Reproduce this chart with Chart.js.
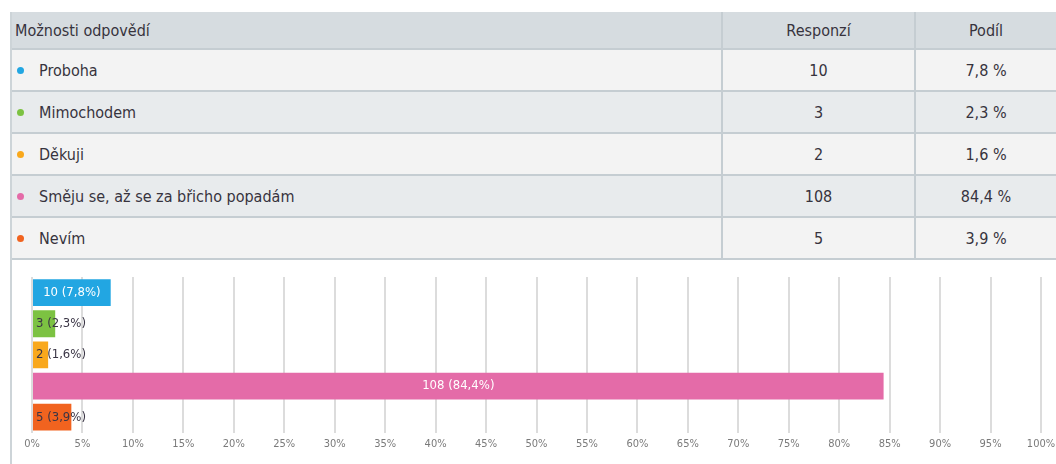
<!DOCTYPE html>
<html>
<head>
<meta charset="utf-8">
<script src="https://cdn.jsdelivr.net/npm/chart.js@4.4.1/dist/chart.umd.min.js"></script>
<style>
	body { margin: 0; background: #fff; font-family: "DejaVu Sans Condensed", "Liberation Sans Narrow", sans-serif; color: #37333d; }
	#wrap { position: absolute; left: 10px; top: 12px; width: 1046px; border-left: 2px solid #cdd4d8; }
	table { border-collapse: collapse; width: 1044px; table-layout: fixed; font-size: 16px; }
	th { background: #d6dce0; font-weight: normal; height: 36px; padding: 0; border-bottom: 2px solid #c5cdd2; }
	td { height: 40px; padding: 0; border-bottom: 2px solid #c5cdd2; }
	th + th, td + td { border-left: 2px solid #c5cdd2; text-align: center; }
	th:first-child { text-align: left; padding-left: 3px; }
	td:first-child { padding-left: 27px; position: relative; }
	tr:nth-child(odd) td { background: #f3f3f3; }
	tr:nth-child(even) td { background: #e8ebed; }
	.dot { position: absolute; left: 5px; top: 17px; width: 7px; height: 7px; border-radius: 50%; }
	#box { position: relative; width: 1044px; height: 204px; }
</style>
</head>
<body>
<div id="wrap">
	<table id="tbl">
		<colgroup><col style="width:710px"><col style="width:193px"><col style="width:141px"></colgroup>
		<thead><tr><th>Možnosti odpovědí</th><th>Responzí</th><th>Podíl</th></tr></thead>
		<tbody></tbody>
	</table>
	<div id="box"><canvas id="answers"></canvas></div>
</div>
<script>
// Data
var answers = ['Proboha', 'Mimochodem', 'Děkuji', 'Směju se, až se za břicho popadám', 'Nevím'];
var counts = [10, 3, 2, 108, 5];
var shares = [7.8, 2.3, 1.6, 84.4, 3.9];
var ticks = [0, 5, 10, 15, 20, 25, 30, 35, 40, 45, 50, 55, 60, 65, 70, 75, 80, 85, 90, 95, 100];

var colors = ['#22a6e2', '#7cc242', '#f9a81c', '#e46ba8', '#f1631f'];
var fontFamily = '"DejaVu Sans Condensed", "Liberation Sans Narrow", sans-serif';

var fmt = function (v) {
	return v.toFixed(1).replace('.', ',');
};

// Table rows
var tbody = document.querySelector('#tbl tbody');
answers.forEach(function (name, i) {
	var tr = document.createElement('tr');
	tr.innerHTML = '<td><span class="dot" style="background:' + colors[i] + '"></span>' + name + '</td>' +
		'<td>' + counts[i] + '</td><td>' + fmt(shares[i]) + ' %</td>';
	tbody.appendChild(tr);
});

// Bar value labels
var barLabels = {
	id: 'barLabels',
	afterDatasetsDraw: function (chart) {
		var ctx = chart.ctx;
		var meta = chart.getDatasetMeta(0);
		ctx.save();
		ctx.font = '13px ' + fontFamily;
		ctx.textBaseline = 'middle';
		meta.data.forEach(function (bar, i) {
			var text = counts[i] + ' (' + fmt(shares[i]) + '%)';
			var w = ctx.measureText(text).width;
			var barW = bar.x - bar.base;
			if (w + 10 < barW) {
				ctx.fillStyle = '#fff';
				ctx.textAlign = 'center';
				ctx.fillText(text, (bar.x + bar.base) / 2, bar.y);
			} else {
				ctx.fillStyle = '#3a3545';
				ctx.textAlign = 'left';
				ctx.fillText(text, bar.base + 3, bar.y);
			}
		});
		ctx.restore();
	}
};

new Chart(document.getElementById('answers'), {
	type: 'bar',
	data: {
		labels: answers,
		datasets: [{
			data: shares,
			backgroundColor: colors,
			borderWidth: 0,
			barPercentage: 0.86,
			categoryPercentage: 1,
		}],
	},
	options: {
		indexAxis: 'y',
		responsive: true,
		maintainAspectRatio: false,
		animation: false,
		layout: {
			padding: { left: 20, right: 15, top: 17, bottom: 8 },
		},
		plugins: {
			legend: { display: false },
			tooltip: { enabled: false },
		},
		scales: {
			x: {
				min: 0,
				max: 100,
				afterBuildTicks: function (scale) {
					scale.ticks = ticks.map(function (v) { return { value: v }; });
				},
				afterFit: function (scale) {
					scale.paddingLeft = 0;
					scale.paddingRight = 0;
				},
				border: { display: false },
				grid: { color: '#dcdcdc', lineWidth: 2, drawTicks: false },
				ticks: {
					padding: 5,
					maxRotation: 0,
					autoSkip: false,
					color: '#7a7a7a',
					font: { size: 11, family: fontFamily },
					callback: function (v) { return v + '%'; },
				},
			},
			y: {
				display: false,
			},
		},
	},
	plugins: [barLabels],
});
</script>
</body>
</html>
